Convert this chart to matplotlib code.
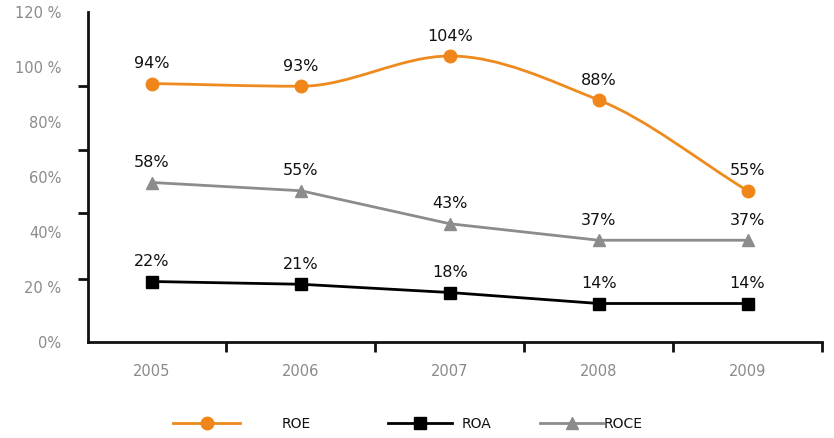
import matplotlib
matplotlib.use("Agg")
import matplotlib.pyplot as plt
from matplotlib.lines import Line2D
from matplotlib.path import Path
from matplotlib.patches import PathPatch

# Data
YEARS = ["2005", "2006", "2007", "2008", "2009"]
ROE = [94, 93, 104, 88, 55]
ROA = [22, 21, 18, 14, 14]
ROCE = [58, 55, 43, 37, 37]
Y_LABEL_VALUES = [0, 20, 40, 60, 80, 100, 120]
Y_LABELS = ["0%", "20 %", "40%", "60%", "80%", "100 %", "120 %"]

# Styling
ORANGE = "#ee8a1e"
ORANGE_MARK = "#f08519"
GREY_LINE = "#8c8c8c"
GREY_TEXT = "#8a8a8a"
Y_TICK_MARKS = [0, 23, 47, 70, 93, 120]

plt.rcParams["font.family"] = ["DejaVu Sans"]


def smooth_path(xs, ys):
    """Monotone cubic curve through the points, as Bezier segments (no overshoot)."""
    n = len(xs)
    d = [(ys[i + 1] - ys[i]) / (xs[i + 1] - xs[i]) for i in range(n - 1)]
    m = [d[0]] + [0.0] * (n - 2) + [d[-1]]
    for i in range(1, n - 1):
        if d[i - 1] * d[i] > 0:
            m[i] = 2 / (1 / d[i - 1] + 1 / d[i])
    verts = [(xs[0], ys[0])]
    codes = [Path.MOVETO]
    for i in range(n - 1):
        h = xs[i + 1] - xs[i]
        verts += [(xs[i] + h / 3, ys[i] + m[i] * h / 3),
                  (xs[i + 1] - h / 3, ys[i + 1] - m[i + 1] * h / 3),
                  (xs[i + 1], ys[i + 1])]
        codes += [Path.CURVE4] * 3
    return Path(verts, codes)


W, H = 834, 438
fig = plt.figure(figsize=(W / 100, H / 100), dpi=100)
fig.patch.set_facecolor("white")
ax = fig.add_axes([88 / W, 1 - 342 / H, (822 - 88) / W, (342 - 12) / H])

x = list(range(len(YEARS)))

# ROE: smooth orange curve
ax.add_patch(PathPatch(smooth_path(x, ROE), facecolor="none",
                       edgecolor=ORANGE, linewidth=2.0, zorder=3))
ax.plot(x, ROE, linestyle="none", marker="o", markersize=9,
        color=ORANGE_MARK, zorder=4)

# ROA and ROCE: straight lines
ax.plot(x, ROA, color="black", linewidth=2.0, marker="s", markersize=9, zorder=3)
ax.plot(x, ROCE, color=GREY_LINE, linewidth=2.0, marker="^", markersize=9, zorder=3)

for series in (ROE, ROA, ROCE):
    for xi, v in zip(x, series):
        ax.annotate(f"{v}%", xy=(xi, v), xytext=(0, 11), textcoords="offset points",
                    ha="center", va="baseline", fontsize=11.5, color="#111111")

ax.set_xlim(-0.43, 4.5)
ax.set_ylim(0, 120)

for side in ("top", "right"):
    ax.spines[side].set_visible(False)
for side in ("left", "bottom"):
    ax.spines[side].set_linewidth(2.0)
    ax.spines[side].set_color("#111111")

# x: labels on categories, tick marks between them
ax.set_xticks(x)
ax.set_xticklabels(YEARS)
ax.set_xticks([i + 0.5 for i in x], minor=True)
ax.tick_params(axis="x", which="major", length=0, pad=16, labelsize=10.5,
               labelcolor=GREY_TEXT)
ax.tick_params(axis="x", which="minor", length=7, width=2.0, color="#111111",
               direction="out")

# y: labels every 20 %, tick marks on their own grid as in the reference
ax.set_yticks(Y_LABEL_VALUES)
ax.set_yticklabels(Y_LABELS)
ax.set_yticks(Y_TICK_MARKS, minor=True)
ax.tick_params(axis="y", which="major", length=0, pad=19, labelsize=10.5,
               labelcolor=GREY_TEXT)
ax.tick_params(axis="y", which="minor", length=7, width=2.0, color="#111111",
               direction="out")

# Legend: three separate entries, spaced like the reference
FS_LEG = 10
legend_items = [
    (Line2D([], [], color=ORANGE, linewidth=2.0, marker="o", markersize=9,
            markerfacecolor=ORANGE_MARK, markeredgecolor=ORANGE_MARK),
     "ROE", 173, 67, 42),
    (Line2D([], [], color="black", linewidth=2.0, marker="s", markersize=9),
     "ROA", 388, 64, 10),
    (Line2D([], [], color=GREY_LINE, linewidth=2.0, marker="^", markersize=9),
     "ROCE", 540, 63, 1),
]
fs_px = FS_LEG * 100 / 72
for handle, label, left_px, hlen_px, hpad_px in legend_items:
    fig.legend([handle], [label], loc="center left",
               bbox_to_anchor=(left_px / W, 1 - 424 / H),
               frameon=False, fontsize=FS_LEG, borderpad=0, borderaxespad=0,
               handlelength=hlen_px / fs_px, handletextpad=hpad_px / fs_px,
               labelcolor="#111111")

fig.savefig("out.png", dpi=100, facecolor="white")
